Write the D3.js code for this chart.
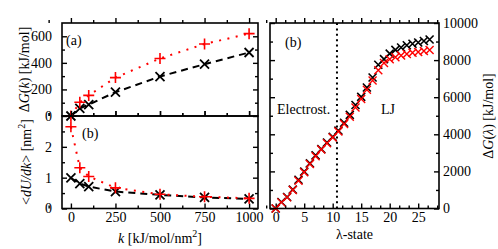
<!DOCTYPE html>
<html>
<head>
<meta charset="utf-8">
<script src="https://cdn.jsdelivr.net/npm/d3@7"></script>
<style>
  body { margin: 0; background: #fff; }
</style>
</head>
<body>
<svg id="chart" width="498" height="249"></svg>
<script>
// data
const kVals = [0, 50, 100, 250, 500, 750, 1000];
const dGkRed = [0, 103, 155, 289, 433, 542, 620];
const dGkBlack = [0, 58, 86, 179, 297, 390, 478];
const dUdkRed = [2.65, 1.32, 1.04, 0.67, 0.46, 0.38, 0.33];
const dUdkBlack = [0.99, 0.81, 0.71, 0.55, 0.44, 0.36, 0.31];

const lambdaStates = d3.range(0, 28);
const dGlBlack = [0, 350, 620, 1020, 1550, 1990, 2430, 2870, 3200, 3560, 3860, 4200, 4620, 5050,
  5580, 6020, 6520, 7060, 7750, 8050, 8350, 8550, 8680, 8800, 8880, 8950, 9030, 9110];
const dGlRed = [0, 330, 600, 1000, 1500, 1950, 2400, 2820, 3180, 3520, 3830, 4150, 4550, 4950,
  5450, 5900, 6400, 6900, 7450, 7850, 8050, 8150, 8250, 8330, 8390, 8440, 8490, 8540];
const lambdaSplit = 10.75;

//pick the first serif face that is really installed (measured against monospace)
function pickSerif() {
  const ctx = document.createElement("canvas").getContext("2d");
  const probe = "Electrost. 0123456789 kJ/mol";
  ctx.font = "40px monospace";
  const base = ctx.measureText(probe).width;
  const names = ["Liberation Serif", "Times New Roman", "Tinos", "Nimbus Roman", "DejaVu Serif",
    "Noto Serif", "FreeSerif", "Times"];
  for (const n of names) {
    ctx.font = `40px "${n}", monospace`;
    if (Math.abs(ctx.measureText(probe).width - base) > 0.5) return `"${n}", serif`;
  }
  return "serif";
}
const FONT = pickSerif();

const svg = d3.select("#chart").style("font-family", FONT);
const MAJOR = 5, MINOR = 3;

//scales for the left stacked panels
const xK = d3.scaleLinear().domain([-50, 1050]).range([62, 258]);
const yTop = d3.scaleLinear().domain([0, 700]).range([116, 23]);
const yBot = d3.scaleLinear().domain([0, 3]).range([208.5, 116]);
//scales for the right panel
const xL = d3.scaleLinear().domain([-1, 28.65]).range([270, 439]);
const yL = d3.scaleLinear().domain([0, 10000]).range([208.5, 23]);

//draw inward ticks on one side, major + minor, optionally with labels
function ticks(axisFn, scale, pos, major, minor, size, labels, pad) {
  const sideX = axisFn === d3.axisLeft || axisFn === d3.axisRight;
  const tr = sideX ? `translate(${pos},0)` : `translate(0,${pos})`;
  const g = svg.append("g").attr("transform", tr);
  g.call(axisFn(scale).tickValues(minor).tickSize(-MINOR * size).tickFormat(""));
  g.append("g").call(axisFn(scale).tickValues(major).tickSize(-MAJOR * size)
    .tickPadding(pad || 3).tickFormat(labels ? d3.format("d") : ""));
  g.selectAll("g").attr("font-family", FONT).attr("font-size", 14);
  g.selectAll("text").style("font-family", FONT).attr("fill", "#000");
  g.selectAll(".domain").remove();
  g.selectAll("line").attr("stroke", "#000").attr("stroke-width", 1.4);
  return g;
}

function frame(x0, x1, y0, y1) {
  svg.append("rect").attr("x", x0).attr("y", y0).attr("width", x1 - x0).attr("height", y1 - y0)
    .attr("fill", "none").attr("stroke", "#000").attr("stroke-width", 1.6);
}

const plusPath = s => `M${-s},0H${s}M0,${-s}V${s}`;
const crossPath = s => `M${-s},${-s}L${s},${s}M${-s},${s}L${s},${-s}`;

function series(xs, ys, xS, yS, color, dash, marker, ms, lw) {
  const pts = xs.map((x, i) => [xS(x), yS(ys[i])]);
  if (dash) {
    svg.append("path").attr("d", d3.line()(pts)).attr("fill", "none")
      .attr("stroke", color).attr("stroke-width", 2).attr("stroke-dasharray", dash);
  }
  svg.append("g").selectAll("path").data(pts).enter().append("path")
    .attr("transform", d => `translate(${d[0]},${d[1]})`)
    .attr("d", marker(ms)).attr("fill", "none").attr("stroke", color).attr("stroke-width", lw);
}

// ---- left top: dG(k)
const kMajor = [0, 250, 500, 750, 1000];
const kMinor = [-125, 125, 375, 625, 875];
ticks(d3.axisTop, xK, 23, kMajor, kMinor, -1);
ticks(d3.axisBottom, xK, 116, kMajor, kMinor, 1);
ticks(d3.axisLeft, yTop, 62, [0, 200, 400, 600], [100, 300, 500], 1, true, 10);
ticks(d3.axisRight, yTop, 258, [0, 200, 400, 600], [100, 300, 500], 1);
series(kVals, dGkBlack, xK, yTop, "#000", "7,5", crossPath, 4.5, 1.8);
series(kVals, dGkRed, xK, yTop, "#ff0000", "2,6.5", plusPath, 5.5, 1.6);

// ---- left bottom: <dU/dk>
ticks(d3.axisTop, xK, 116, kMajor, kMinor, -1);
ticks(d3.axisBottom, xK, 208.5, kMajor, kMinor, 1, true, 4);
ticks(d3.axisLeft, yBot, 62, [0, 1, 2], [0.5, 1.5, 2.5], 1, true, 10);
ticks(d3.axisRight, yBot, 258, [0, 1, 2], [0.5, 1.5, 2.5], 1);
series(kVals, dUdkBlack, xK, yBot, "#000", "7,5", crossPath, 4.5, 1.8);
series(kVals, dUdkRed, xK, yBot, "#ff0000", "2,6.5", plusPath, 5.5, 1.6);

frame(62, 258, 23, 116);
frame(62, 258, 116, 208.5);

// ---- right: dG(lambda)
const lMajor = [0, 5, 10, 15, 20, 25];
const lMinor = d3.range(-5 / 3, 28.6, 5 / 3).filter(v => Math.abs(v / 5 - Math.round(v / 5)) > 0.01);
const gMajor = [0, 2000, 4000, 6000, 8000, 10000];
const gMinor = [1000, 3000, 5000, 7000, 9000];
ticks(d3.axisTop, xL, 23, lMajor, lMinor, -1);
ticks(d3.axisBottom, xL, 208.5, lMajor, lMinor, 1, true, 4);
ticks(d3.axisLeft, yL, 270, gMajor, gMinor, 1);
ticks(d3.axisRight, yL, 439, gMajor, gMinor, 1, true, 4);

svg.append("line").attr("x1", xL(lambdaSplit)).attr("x2", xL(lambdaSplit))
  .attr("y1", yL(10000)).attr("y2", yL(0))
  .attr("stroke", "#000").attr("stroke-width", 2).attr("stroke-dasharray", "2,3.4");

series(lambdaStates, dGlBlack, xL, yL, "#000", null, crossPath, 4, 1.6);
series(lambdaStates, dGlRed, xL, yL, "#ff0000", null, crossPath, 4, 1.4);
frame(270, 439, 23, 208.5);

// ---- texts
function label(x, y, parts, opts) {
  const t = svg.append("text").attr("x", x).attr("y", y).style("font-family", FONT)
    .attr("font-size", 14).attr("text-anchor", (opts && opts.anchor) || "start");
  if (opts && opts.rotate) t.attr("transform", `rotate(-90,${x},${y})`);
  parts.forEach(p => {
    const s = t.append("tspan").text(p.t);
    if (p.i) s.attr("font-style", "italic");
    if (p.sup) s.attr("font-size", 10).attr("dy", -6);
    if (p.down) s.attr("dy", 6);
  });
  return t;
}

label(66, 45, [{ t: "(a)" }]);
label(82, 138, [{ t: "(b)" }]);
label(285, 47, [{ t: "(b)" }]);
label(277, 114, [{ t: "Electrost." }]);
label(381, 114, [{ t: "LJ" }]);

label(29, 69.5, [{ t: "Δ" }, { t: "G", i: 1 }, { t: "(" }, { t: "k", i: 1 }, { t: ") [kJ/mol]" }],
  { anchor: "middle", rotate: 1 });
label(31, 162, [{ t: "<" }, { t: "dU/dk", i: 1 }, { t: "> [nm" }, { t: "2", sup: 1 }, { t: "]", down: 1 }],
  { anchor: "middle", rotate: 1 });
label(160, 243, [{ t: "k", i: 1 }, { t: " [kJ/mol/nm" }, { t: "2", sup: 1 }, { t: "]", down: 1 }],
  { anchor: "middle" });
label(354.5, 239, [{ t: "λ-state" }], { anchor: "middle" });
label(493, 116, [{ t: "Δ" }, { t: "G", i: 1 }, { t: "(" }, { t: "λ", i: 1 }, { t: ") [kJ/mol]" }],
  { anchor: "middle", rotate: 1 });
</script>
</body>
</html>
